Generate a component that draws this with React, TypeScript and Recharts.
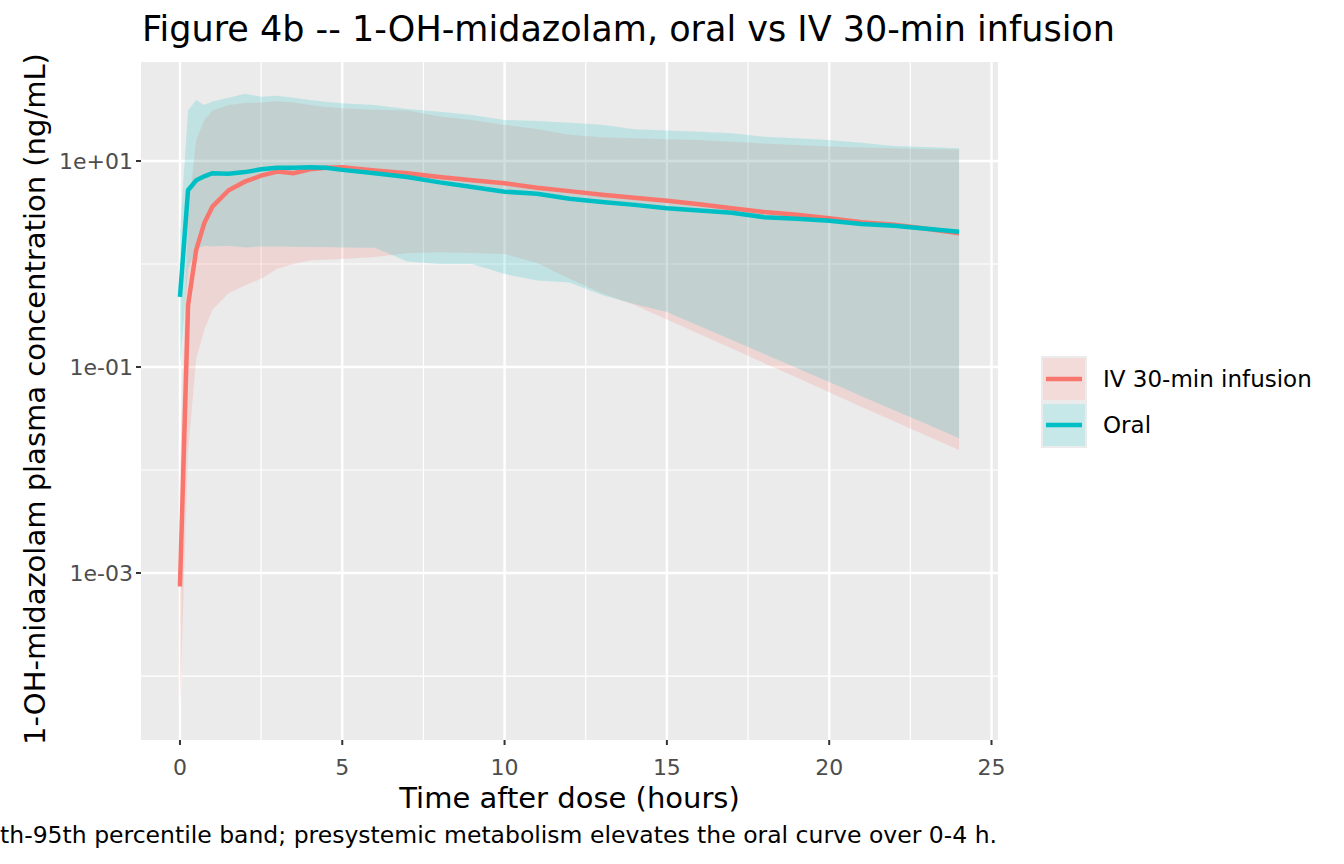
import { ComposedChart, Area, Line, XAxis, YAxis, CartesianGrid } from "recharts";

// sampling times (h)
const hours = [0, 0.25, 0.5, 0.75, 1, 1.5, 2, 2.5, 3, 3.5, 4, 4.5, 5, 6, 7, 8, 9, 10, 11, 12, 13, 14, 15, 16, 17, 18, 19, 20, 21, 22, 23, 24];

// IV 30-min infusion: median and 5th / 95th percentiles (ng/mL)
const ivMedian = [7.4e-4, 0.4, 1.37, 2.5, 3.6, 5.2, 6.3, 7.2, 7.9, 7.6, 8.3, 8.6, 8.7, 8.1, 7.6, 7.0, 6.5, 6.07, 5.5, 5.1, 4.7, 4.4, 4.12, 3.8, 3.47, 3.2, 3.0, 2.78, 2.55, 2.4, 2.2, 1.99];
const ivP5 = [5e-5, 0.015, 0.12, 0.23, 0.36, 0.52, 0.62, 0.72, 0.9, 1.0, 1.08, 1.1, 1.12, 1.17, 1.27, 1.3, 1.28, 1.25, 1.02, 0.72, 0.52, 0.4, 0.289, 0.209, 0.151, 0.109, 0.079, 0.057, 0.041, 0.0297, 0.0215, 0.0156];
const ivP95 = [0.01, 3, 16, 25, 31, 35, 36.5, 37, 38, 37, 35, 33.5, 32.5, 31.5, 31, 27, 25, 22.4, 20.5, 18, 17, 16.6, 16.3, 16, 15.4, 14.8, 14.3, 13.8, 13.5, 13.3, 13.1, 12.9];

// Oral: median and 5th / 95th percentiles (ng/mL)
const oralMedian = [0.48, 5.2, 6.5, 7.1, 7.6, 7.5, 7.8, 8.3, 8.6, 8.6, 8.7, 8.6, 8.2, 7.6, 7.0, 6.2, 5.6, 5.04, 4.8, 4.3, 4.0, 3.75, 3.47, 3.3, 3.14, 2.85, 2.75, 2.63, 2.45, 2.35, 2.2, 2.06];
const oralP5 = [0.1, 0.9, 1.4, 1.5, 1.48, 1.5, 1.45, 1.48, 1.48, 1.47, 1.46, 1.46, 1.45, 1.44, 1.06, 1.0, 1.0, 0.8, 0.69, 0.66, 0.5, 0.41, 0.342, 0.25, 0.183, 0.134, 0.098, 0.0714, 0.052, 0.038, 0.028, 0.0203];
const oralP95 = [2, 31, 39, 35, 37.7, 41, 45, 42, 43, 41, 39, 37.5, 36.3, 35, 32, 30, 28, 25, 24.5, 23.5, 22.5, 20.3, 19.8, 19.2, 18.6, 17.2, 16.6, 16, 15, 14, 13.7, 13.3];

const xTicks = [0, 5, 10, 15, 20, 25];
const xMinor = [2.5, 7.5, 12.5, 17.5, 22.5];
const yTicks = [1e-3, 1e-1, 1e1];
const yMinor = [1e-4, 1e-2, 1e0];

const seriesNames = ["IV 30-min infusion", "Oral"];
const seriesColors = ["#F8766D", "#00BFC4"];

const data = hours.map((t, i) => ({
  t,
  iv: ivMedian[i],
  ivBand: [ivP5[i], ivP95[i]],
  oral: oralMedian[i],
  oralBand: [oralP5[i], oralP95[i]],
}));

// ggplot-like log labels: 1e+01, 1e-03 ...
const sci = (v: number) => {
  const e = Math.round(Math.log10(v));
  return `1e${e < 0 ? "-" : "+"}${String(Math.abs(e)).padStart(2, "0")}`;
};

const FONT = "DejaVu Sans";
const W = 1344;
const H = 864;
const BAND_ALPHA = 0.18;

export default function App() {
  return (
    <div style={{ position: "absolute", left: 0, top: 0, width: W, height: H, background: "#FFFFFF", fontFamily: FONT }}>
      <ComposedChart width={W} height={H} data={data} margin={{ top: 62, right: 346, bottom: 94, left: 51 }}>
        {/* panel background + minor grid, then major grid */}
        <CartesianGrid fill="#EBEBEB" stroke="#FFFFFF" strokeWidth={1.2} horizontalValues={yMinor} verticalValues={xMinor} />
        <CartesianGrid fill="none" stroke="#FFFFFF" strokeWidth={2.4} horizontalValues={yTicks} verticalValues={xTicks} />
        <XAxis
          dataKey="t"
          type="number"
          domain={[-1.2, 25.2]}
          ticks={xTicks}
          allowDataOverflow
          height={30}
          axisLine={false}
          tickSize={5}
          tickMargin={14}
          tickLine={{ stroke: "#333333", strokeWidth: 2 }}
          tick={{ fill: "#4D4D4D", fontSize: 22, fontFamily: FONT }}
        />
        <YAxis
          type="number"
          scale="log"
          domain={[Math.pow(10, -4.621), Math.pow(10, 1.961)]}
          ticks={yTicks}
          allowDataOverflow
          width={90}
          axisLine={false}
          tickSize={5}
          tickMargin={3}
          tickFormatter={sci}
          tickLine={{ stroke: "#333333", strokeWidth: 2 }}
          tick={{ fill: "#4D4D4D", fontSize: 22, fontFamily: FONT }}
        />
        <Area dataKey="ivBand" type="linear" stroke="none" fill={seriesColors[0]} fillOpacity={BAND_ALPHA} isAnimationActive={false} />
        <Area dataKey="oralBand" type="linear" stroke="none" fill={seriesColors[1]} fillOpacity={BAND_ALPHA} isAnimationActive={false} />
        <Line dataKey="iv" type="linear" stroke={seriesColors[0]} strokeWidth={4.5} dot={false} isAnimationActive={false} />
        <Line dataKey="oral" type="linear" stroke={seriesColors[1]} strokeWidth={4.5} dot={false} isAnimationActive={false} />
      </ComposedChart>

      {/* titles, caption and legend */}
      <svg width={W} height={H} style={{ position: "absolute", left: 0, top: 0, pointerEvents: "none" }} fontFamily={FONT}>
        <text x={142} y={41} fontSize={35} fill="#000000">
          Figure 4b -- 1-OH-midazolam, oral vs IV 30-min infusion
        </text>
        <text x={569.5} y={808} fontSize={29} fill="#000000" textAnchor="middle">
          Time after dose (hours)
        </text>
        <text x={45} y={399} fontSize={29} fill="#000000" textAnchor="middle" transform="rotate(-90 45 399)">
          1-OH-midazolam plasma concentration (ng/mL)
        </text>
        <text x={997} y={843} fontSize={23.5} fill="#000000" textAnchor="end">
          5th-95th percentile band; presystemic metabolism elevates the oral curve over 0-4 h.
        </text>
        {seriesNames.map((name, i) => {
          const top = 357 + i * 46;
          return (
            <g key={name}>
              <rect x={1042} y={top} width={44} height={44} fill="#F2F2F2" stroke="#EBEBEB" strokeWidth={2} />
              <rect x={1043} y={top + 1} width={42} height={42} fill={seriesColors[i]} fillOpacity={BAND_ALPHA} />
              <line x1={1046} x2={1082} y1={top + 22} y2={top + 22} stroke={seriesColors[i]} strokeWidth={4.5} />
              <text x={1103} y={top + 30} fontSize={23} fill="#000000">
                {name}
              </text>
            </g>
          );
        })}
      </svg>
    </div>
  );
}
